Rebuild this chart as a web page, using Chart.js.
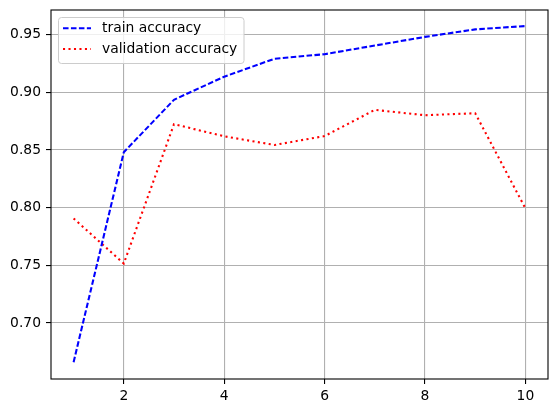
<!DOCTYPE html>
<html>
<head>
<meta charset="utf-8">
<script src="https://cdn.jsdelivr.net/npm/chart.js@4"></script>
<style>
  body { margin: 0; background: #fff; }
  #wrap { width: 556px; height: 413px; }
</style>
</head>
<body>
<div id="wrap"><canvas id="grafico" width="556" height="413"></canvas></div>
<script>
const epocas = [1, 2, 3, 4, 5, 6, 7, 8, 9, 10];
const trainAcc = [0.666, 0.848, 0.8935, 0.9135, 0.929, 0.933, 0.9405, 0.948, 0.9545, 0.9574];
const valAcc = [0.7906, 0.7515, 0.8723, 0.8618, 0.8543, 0.862, 0.8847, 0.8801, 0.8818, 0.7993];
const ticksX = [2, 4, 6, 8, 10];
const ticksY = [0.70, 0.75, 0.80, 0.85, 0.90, 0.95];

const fuente = { family: 'DejaVu Sans', size: 13.89 };

// marco negro alrededor del area y leyenda estilo matplotlib
const marcoYLeyenda = {
  id: 'marcoYLeyenda',
  afterDraw(chart) {
    const ctx = chart.ctx;
    const a = chart.chartArea;
    ctx.save();
    ctx.strokeStyle = '#000';
    ctx.lineWidth = 1.1;
    ctx.strokeRect(a.left, a.top, a.right - a.left, a.bottom - a.top);

    // caja de la leyenda
    const x = 58.5, y = 17.5, w = 185.5, h = 46, r = 3;
    ctx.beginPath();
    ctx.roundRect(x, y, w, h, r);
    ctx.fillStyle = 'rgba(255,255,255,0.8)';
    ctx.fill();
    ctx.strokeStyle = '#cccccc';
    ctx.lineWidth = 1;
    ctx.stroke();

    const filas = [28.3, 49];
    chart.data.datasets.forEach((ds, i) => {
      ctx.beginPath();
      ctx.setLineDash(ds.borderDash);
      ctx.strokeStyle = ds.borderColor;
      ctx.lineWidth = ds.borderWidth;
      ctx.moveTo(63, filas[i]);
      ctx.lineTo(91, filas[i]);
      ctx.stroke();
      ctx.setLineDash([]);
      ctx.fillStyle = '#000';
      ctx.font = fuente.size + 'px "DejaVu Sans"';
      ctx.textBaseline = 'middle';
      ctx.textAlign = 'left';
      ctx.fillText(ds.label, 102, filas[i] + 0.5);
    });
    ctx.restore();
  }
};

const ctx = document.getElementById('grafico').getContext('2d');
new Chart(ctx, {
  type: 'line',
  data: {
    datasets: [
      {
        label: 'train accuracy',
        data: epocas.map((e, i) => ({ x: e, y: trainAcc[i] })),
        borderColor: '#0000ff',
        borderWidth: 2.08,
        borderDash: [5.55, 2.4],
        pointRadius: 0,
        tension: 0,
        fill: false
      },
      {
        label: 'validation accuracy',
        data: epocas.map((e, i) => ({ x: e, y: valAcc[i] })),
        borderColor: '#ff0000',
        borderWidth: 2.08,
        borderDash: [2.08, 3.4],
        pointRadius: 0,
        tension: 0,
        fill: false
      }
    ]
  },
  options: {
    responsive: false,
    animation: false,
    layout: { padding: { top: 10, right: 8, left: 0, bottom: 0 } },
    plugins: {
      legend: { display: false },
      tooltip: { enabled: false }
    },
    scales: {
      x: {
        type: 'linear',
        min: 0.55,
        max: 10.45,
        afterBuildTicks: s => { s.ticks = ticksX.map(v => ({ value: v })); },
        afterFit: s => { s.height = 34; s.paddingLeft = 0; s.paddingRight = 0; },
        grid: { color: '#b0b0b0', lineWidth: 1.1, tickColor: '#000', tickLength: 5 },
        border: { display: false },
        ticks: { color: '#000', font: fuente, padding: 4, maxRotation: 0 }
      },
      y: {
        min: 0.6514,
        max: 0.9713,
        afterBuildTicks: s => { s.ticks = ticksY.map(v => ({ value: v })); },
        afterFit: s => { s.width = 51; s.paddingTop = 0; s.paddingBottom = 0; },
        grid: { color: '#b0b0b0', lineWidth: 1.1, tickColor: '#000', tickLength: 5 },
        border: { display: false },
        ticks: {
          color: '#000',
          font: fuente,
          padding: 5,
          callback: v => Number(v).toFixed(2)
        }
      }
    }
  },
  plugins: [marcoYLeyenda]
});
</script>
</body>
</html>
